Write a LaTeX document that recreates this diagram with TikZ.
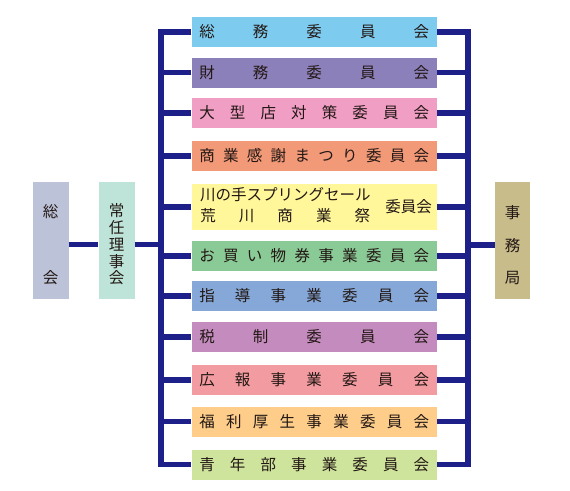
\documentclass[tikz,border=0pt]{standalone}
\usepackage{fontspec}
\setmainfont{Noto Sans CJK JP}
\definecolor{lnk}{HTML}{1D2088}
\definecolor{txt}{HTML}{231815}
\definecolor{c1}{HTML}{7DCCF0}
\definecolor{c2}{HTML}{8B80BA}
\definecolor{c3}{HTML}{F09EC4}
\definecolor{c4}{HTML}{F29978}
\definecolor{c5}{HTML}{FFF799}
\definecolor{c6}{HTML}{8ACA96}
\definecolor{c7}{HTML}{85A8D8}
\definecolor{c8}{HTML}{C48CBE}
\definecolor{c9}{HTML}{F29BA0}
\definecolor{c10}{HTML}{FDCD89}
\definecolor{c11}{HTML}{CEE39B}
\definecolor{cs}{HTML}{BCC2D8}
\definecolor{cj}{HTML}{BEE3D8}
\definecolor{cm}{HTML}{C9BC8B}
\newcommand\distr[2]{\makebox[#1][s]{#2}}
\begin{document}
\begin{tikzpicture}[x=1pt,y=-1pt,
  every node/.style={font=\fontsize{15.5}{16.75}\selectfont, text=txt},
  cbox/.style={minimum width=245.5pt, minimum height=30pt, inner sep=0pt, fill=#1},
  colbox/.style={minimum width=36pt, minimum height=117pt, inner sep=0pt, fill=#1},
  link/.style={draw=lnk, line width=5.5pt}]
\useasboundingbox (0,0) rectangle (570,490);

\node[cbox=c1] (b1) at (314.25,32) {\distr{230pt}{総\hfill 務\hfill 委\hfill 員\hfill 会}};
\node[cbox=c2] (b2) at (314.25,72.5) {\distr{230pt}{財\hfill 務\hfill 委\hfill 員\hfill 会}};
\node[cbox=c3] (b3) at (314.25,113) {\distr{230pt}{大\hfill 型\hfill 店\hfill 対\hfill 策\hfill 委\hfill 員\hfill 会}};
\node[cbox=c4] (b4) at (314.25,156) {\distr{230pt}{商\hfill 業\hfill 感\hfill 謝\hfill ま\hfill つ\hfill り\hfill 委\hfill 員\hfill 会}};
\node[cbox=c5, minimum height=46pt] (b5) at (314.25,207) {};
\node (b5a) at (285.25,195) {川の手スプリングセール};
\node (b5b) at (285.25,216) {\distr{170pt}{荒\hfill 川\hfill 商\hfill 業\hfill 祭}};
\node (b5c) at (408.5,207) {委員会};
\node[cbox=c6] (b6) at (314.25,256) {\distr{230pt}{お\hfill 買\hfill い\hfill 物\hfill 券\hfill 事\hfill 業\hfill 委\hfill 員\hfill 会}};
\node[cbox=c7] (b7) at (314.25,296) {\distr{230pt}{指\hfill 導\hfill 事\hfill 業\hfill 委\hfill 員\hfill 会}};
\node[cbox=c8] (b8) at (314.25,337) {\distr{230pt}{税\hfill 制\hfill 委\hfill 員\hfill 会}};
\node[cbox=c9] (b9) at (314.25,380) {\distr{230pt}{広\hfill 報\hfill 事\hfill 業\hfill 委\hfill 員\hfill 会}};
\node[cbox=c10] (b10) at (314.25,421.5) {\distr{230pt}{福\hfill 利\hfill 厚\hfill 生\hfill 事\hfill 業\hfill 委\hfill 員\hfill 会}};
\node[cbox=c11] (b11) at (314.25,464.5) {\distr{230pt}{青\hfill 年\hfill 部\hfill 事\hfill 業\hfill 委\hfill 員\hfill 会}};

\node[colbox=cs] (sokai) at (50.7,240.5) {};
\node[align=center] (sokaiT) at (50.7,245) {総\\[49.25pt]会};
\node[colbox=cj] (jonin) at (116.5,240.5) {};
\node[align=center] (joninT) at (116.5,244.5) {常\\任\\理\\事\\会};
\node[colbox=cm, minimum width=35pt] (jimu) at (512.5,240.5) {};
\node[align=center] (jimuT) at (512.5,245.5) {事\\[15.75pt]務\\[15.75pt]局};

\coordinate (busL) at (161,0);
\coordinate (busR) at (468,0);
\draw[link] (b1.west) -| (busL |- b11.west) -- (b11.west);
\draw[link] (b1.east) -| (busR |- b11.east) -- (b11.east);
\foreach \i in {2,...,10} {
  \draw[link] (b\i.west) -- (b\i.west -| busL);
  \draw[link] (b\i.east) -- (b\i.east -| busR);
}
\draw[link] ([yshift=-4pt]sokai.east) -- ([yshift=-4pt]jonin.west);
\draw[link] ([yshift=-4pt]jonin.east) -- ([yshift=-4pt]jonin.east -| busL);
\draw[link] ([yshift=-4.5pt]jimu.west) -- ([yshift=-4.5pt]jimu.west -| busR);
\end{tikzpicture}
\end{document}
